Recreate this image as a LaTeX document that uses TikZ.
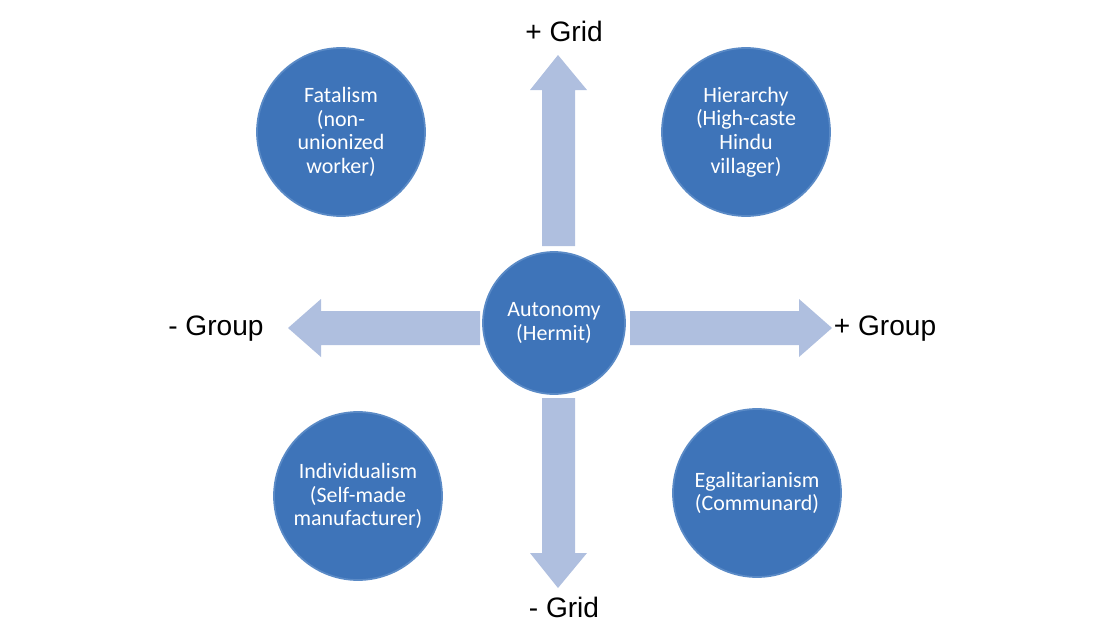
\documentclass[tikz,border=0pt]{standalone}
\usepackage{fontspec}
\setmainfont{Carlito}
\newfontfamily\labelfont{Liberation Sans}
\definecolor{discblue}{HTML}{3E74B9}
\definecolor{discedge}{HTML}{5A8AC6}
\definecolor{arrowblue}{HTML}{AFBFDF}
\tikzset{
  disc/.style={circle, fill=discblue, draw=discedge, line width=1pt, text=white,
    align=center, font=\fontsize{12.5}{13.5}\selectfont, inner sep=0pt},
  axis/.style={fill=arrowblue},
  axislabel/.style={font=\labelfont\fontsize{16}{18}\selectfont, text=black}
}
\begin{document}
\begin{tikzpicture}[x=0.02cm,y=-0.02cm]
\useasboundingbox (0,0) rectangle (1100,640);

% axes
\fill[axis] (542,246) -- (542,90) -- (530,90) -- (558,55) -- (587,90) -- (575,90) -- (575,246) -- cycle;
\fill[axis] (542,398) -- (542,553) -- (530,553) -- (558,588) -- (587,553) -- (575,553) -- (575,398) -- cycle;
\fill[axis] (480,311) -- (321,311) -- (321,299) -- (288,328) -- (321,357) -- (321,345) -- (480,345) -- cycle;
\fill[axis] (630,311) -- (799,311) -- (799,299) -- (832,328) -- (799,357) -- (799,345) -- (630,345) -- cycle;

% circles
\node[disc, minimum size=142*0.02cm] (autonomy) at (554,323) {Autonomy\\(Hermit)};
\node[disc, minimum size=168*0.02cm] (fatalism) at (341,132) {Fatalism\\(non-\\unionized\\worker)};
\node[disc, minimum size=168*0.02cm] (hierarchy) at (746,132) {Hierarchy\\(High-caste\\Hindu\\villager)};
\node[disc, minimum size=168*0.02cm] (individualism) at (358,496) {Individualism\\(Self-made\\manufacturer)};
\node[disc, minimum size=168*0.02cm] (egalitarianism) at (757,493) {Egalitarianism\\(Communard)};

% labels
\node[axislabel] (plusgrid) at (564,31) {+ Grid};
\node[axislabel] (minusgrid) at (564,607) {- Grid};
\node[axislabel] (minusgroup) at (216,329) {- Group};
\node[axislabel] (plusgroup) at (885,329) {+ Group};

\end{tikzpicture}
\end{document}
